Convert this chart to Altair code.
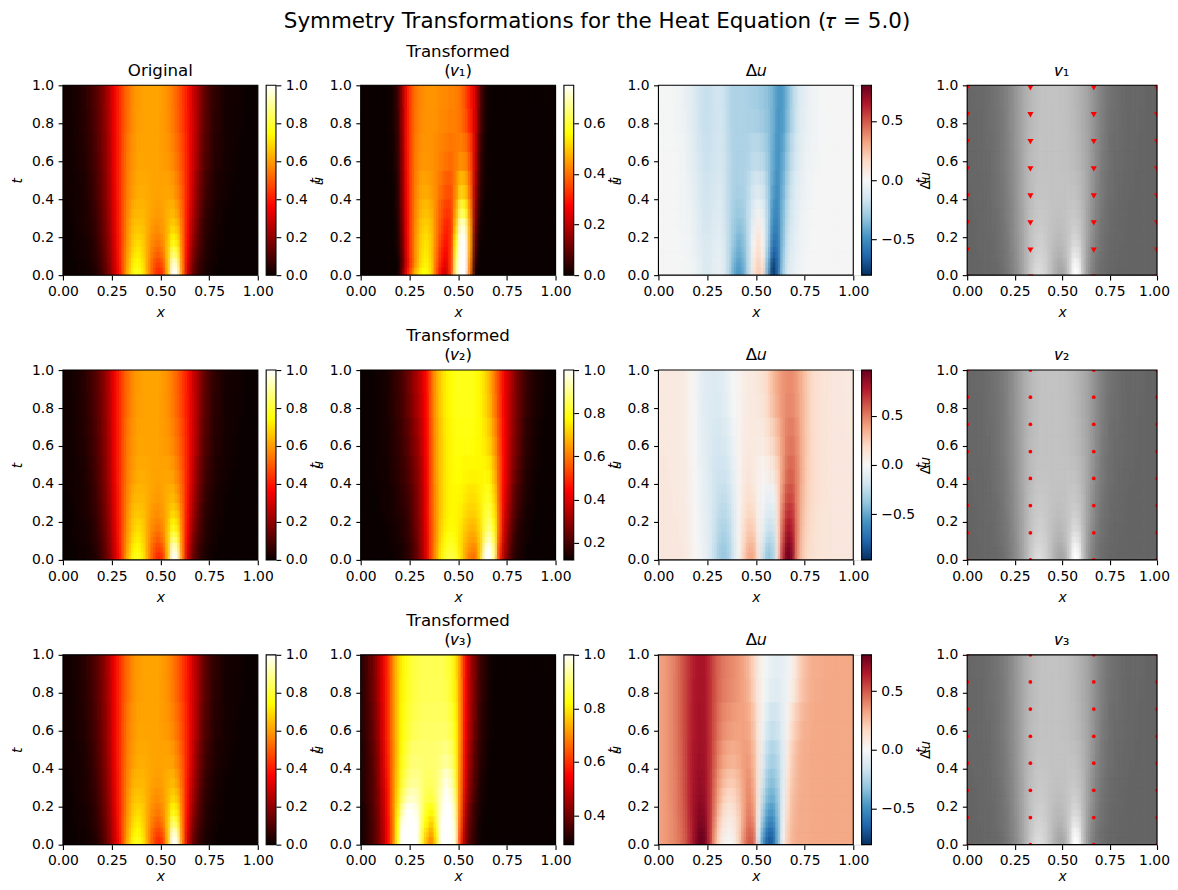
import altair as alt
import pandas as pd

N_COLS = 40
t_edges = [0, .04, .09, .15, .22, .30, .40, .55, .75, 1.0]
x_edges = [i / N_COLS for i in range(N_COLS + 1)]

# every row runs from x=0 to x=1 and rows go from t=0 upward; values are percent
ORIG = [
 [0,0,0,1,1,2,3,6,11,18,27,38,52,66,76,78,72,60,49,42,45,66,100,97,58,32,17,9,5,2,1],
 [0,0,0,1,1,2,4,7,12,19,28,39,52,64,73,75,70,60,51,46,50,66,96,90,57,34,19,10,5,3,1,1],
 [0,0,1,1,2,3,5,8,13,20,29,40,52,62,70,72,68,61,54,51,55,67,85,80,56,36,21,12,7,4,2,1],
 [0,0,1,1,2,3,5,9,14,21,30,40,51,61,67,69,67,61,57,55,58,65,75,71,55,38,24,14,8,4,2,1,1],
 [0,0,1,2,3,4,6,10,15,22,31,41,51,60,65,66,65,62,59,58,60,64,68,65,54,39,26,16,9,5,3,2,1],
 [0,1,1,2,3,4,7,11,16,23,32,41,51,58,63,64,64,62,61,60,61,63,64,60,52,40,28,18,11,6,4,2,1,1],
 [1,1,1,2,3,5,8,12,17,24,33,42,50,57,60,62,62,62,61,61,61,61,60,56,50,41,30,20,13,8,5,3,2,1,1],
 [1,1,2,3,4,6,9,13,18,25,34,42,50,56,59,61,61,61,61,61,60,59,57,53,48,41,32,23,15,10,6,4,3,2,1,1],
 [1,1,2,3,5,7,10,14,19,26,34,42,49,54,58,60,61,61,61,61,60,58,55,51,46,40,32,24,17,11,7,5,3,2,1,1,1],
]
T1 = [
 [0,0,0,0,0,0,0,0,10,28,40,50,56,57,52,38,26,22,34,66,77,77,40,2],
 [0,0,0,0,0,0,0,0,8,24,36,46,53,55,51,40,30,25,34,64,77,77,42,5],
 [0,0,0,0,0,0,0,1,9,26,37,46,52,54,50,41,32,27,34,60,76,75,45,8],
 [0,0,0,0,0,0,0,2,10,26,37,46,51,53,50,42,34,29,33,55,75,74,46,10,1],
 [0,0,0,0,0,0,0,2,11,27,37,45,50,51,49,42,36,31,33,50,72,70,46,13,2],
 [0,0,0,0,0,0,0,3,12,27,37,44,48,49,47,43,37,34,34,46,62,58,43,16,3],
 [0,0,0,0,0,0,0,3,13,28,37,43,46,46,45,43,40,37,37,42,50,48,39,19,5,1],
 [0,0,0,0,0,0,1,4,14,29,37,42,44,44,44,43,42,41,40,41,42,41,36,22,7,1],
 [0,0,0,0,0,0,1,5,15,29,37,41,43,44,44,44,43,43,42,42,40,36,30,23,10,2],
]
T2 = [
 [12,12,12,12,12,12,12,13,14,16,19,24,31,40,54,65,76,82,84,82,75,66,60,59,72,100,100,90,50,33,22,17,14,13,12,12,12,12,12,12],
 [12,12,12,12,12,12,13,13,14,16,19,24,31,41,54,65,75,80,82,80,74,67,63,62,71,96,100,88,52,35,24,18,15,13,12,12,12,12,12,12],
 [12,12,12,12,12,12,13,14,15,17,20,25,32,41,54,64,73,78,80,78,74,69,66,66,72,88,94,83,56,37,26,19,15,14,13,12,12,12,12,12],
 [12,12,12,12,12,13,13,14,15,17,21,26,32,42,54,64,72,76,78,77,75,71,69,69,74,84,88,79,57,39,28,21,16,14,13,12,12,12,12,12],
 [12,12,12,12,13,13,14,15,16,18,21,27,33,42,55,64,71,75,77,77,76,73,72,72,75,82,84,75,57,41,30,23,18,15,13,13,12,12,12,12],
 [12,12,12,12,13,13,14,15,17,19,22,27,33,42,55,64,71,75,77,77,77,75,74,74,76,80,80,72,56,43,32,24,19,16,14,13,12,12,12,12],
 [12,12,12,13,13,13,15,16,18,20,24,28,34,43,55,65,71,75,77,78,78,77,77,77,77,77,76,68,56,44,34,27,21,17,15,13,13,12,12,12],
 [12,12,12,13,13,14,15,17,19,22,26,30,36,44,56,65,71,75,77,79,79,79,79,78,77,75,71,64,54,44,35,29,23,18,16,14,13,12,12,12],
 [12,12,12,13,13,14,16,18,20,24,28,33,38,45,57,66,72,76,78,80,80,80,80,79,77,73,68,60,52,43,36,30,24,20,17,15,14,13,12,12],
]
T3 = [
 [31,33,36,40,46,55,66,84,100,100,100,100,88,75,68,80,100,100,100,96,60,44,36,32,30,29],
 [31,33,36,40,46,55,66,83,100,100,100,100,89,78,72,82,100,100,100,96,62,45,37,32,30,29],
 [31,33,36,40,47,55,66,82,98,100,100,100,90,82,77,85,100,100,100,94,64,46,38,33,30,29],
 [31,33,37,41,47,56,67,80,93,100,100,98,91,85,82,87,98,100,100,92,66,48,39,33,31,29],
 [32,34,37,41,48,56,67,78,88,94,96,95,91,88,87,90,96,100,98,89,67,50,41,35,31,30,29],
 [32,34,37,42,49,57,67,77,85,90,92,92,91,89,89,90,94,98,95,86,68,52,42,36,32,30,29],
 [32,34,38,42,50,58,67,76,83,87,90,90,90,90,90,90,91,92,90,84,69,53,44,37,33,31,29],
 [33,35,39,44,51,59,68,76,82,85,87,88,89,89,89,89,89,89,87,82,70,55,46,39,34,31,30,29],
 [33,36,40,45,52,59,68,76,81,84,86,87,88,88,88,88,88,87,85,80,70,56,47,40,35,32,30,29],
]
D1 = [
 [0,0,0,0,-1,-1,-2,-4,-7,-11,-11,-7,-6,-10,-22,-40,-47,-40,-20,8,20,12,-40,-78,-62,-28,-12,-7,-3,-2,-1,0],
 [0,0,0,0,-1,-1,-2,-4,-7,-11,-11,-7,-6,-10,-21,-37,-44,-38,-20,6,18,8,-36,-74,-62,-30,-13,-8,-4,-2,-1,0],
 [0,0,0,-1,-1,-2,-3,-5,-8,-11,-11,-8,-7,-11,-21,-34,-40,-35,-20,3,15,3,-30,-65,-60,-32,-15,-9,-5,-3,-1,0],
 [0,0,0,-1,-1,-2,-3,-5,-9,-12,-12,-9,-8,-12,-21,-31,-37,-33,-20,0,12,-1,-26,-58,-57,-34,-17,-10,-6,-3,-2,-1,0],
 [0,0,0,-1,-2,-2,-4,-6,-10,-13,-13,-10,-9,-13,-21,-29,-33,-30,-19,-5,6,-4,-24,-52,-54,-35,-19,-11,-7,-4,-2,-1,0],
 [0,0,0,-1,-2,-3,-4,-7,-11,-14,-14,-11,-10,-14,-21,-27,-29,-27,-19,-10,-4,-9,-24,-48,-52,-36,-21,-12,-8,-4,-2,-1,-1,0],
 [0,0,-1,-1,-2,-3,-5,-8,-12,-15,-15,-13,-12,-15,-21,-25,-26,-25,-21,-14,-13,-15,-27,-43,-50,-39,-25,-15,-9,-5,-3,-2,-1,0],
 [0,0,-1,-1,-2,-4,-6,-10,-14,-17,-17,-15,-14,-16,-21,-25,-25,-25,-24,-21,-21,-24,-30,-40,-48,-42,-30,-19,-12,-7,-4,-3,-2,-1,0],
 [-1,-1,-1,-2,-3,-5,-8,-12,-16,-18,-18,-16,-15,-17,-22,-25,-25,-25,-26,-27,-28,-30,-33,-38,-46,-46,-36,-24,-15,-9,-6,-3,-2,-1,-1,0],
]
D2 = [
 [10,10,10,10,10,9,6,1,-2,-6,-12,-22,-33,-36,-30,-14,3,22,36,36,12,-22,-38,-30,15,70,95,85,45,26,18,15,13,12,11,11,10,10,10,10],
 [10,10,10,10,10,9,6,1,-2,-6,-12,-22,-32,-35,-29,-14,3,20,33,32,10,-18,-34,-28,14,66,92,83,46,27,19,15,13,12,11,11,10,10,10,10],
 [10,10,10,10,9,8,5,1,-3,-7,-12,-21,-29,-32,-27,-13,3,17,28,27,8,-12,-26,-24,14,60,85,78,47,28,20,16,13,12,11,11,10,10,10,10],
 [10,10,10,10,9,8,5,0,-3,-7,-12,-20,-27,-29,-25,-12,3,15,24,22,6,-8,-19,-18,14,55,78,73,48,29,21,17,14,12,11,11,10,10,10,10],
 [10,10,10,9,9,8,4,0,-4,-8,-12,-19,-24,-26,-22,-11,2,12,19,17,5,-4,-12,-10,15,50,70,68,47,31,22,17,14,12,11,11,10,10,10,10],
 [10,10,10,9,9,7,4,0,-4,-9,-12,-18,-22,-23,-19,-10,2,10,15,12,4,-2,-6,-4,16,45,62,62,47,32,23,18,15,13,12,11,10,10,10,10],
 [10,10,9,9,8,7,4,-1,-5,-9,-13,-17,-19,-19,-15,-7,2,8,11,9,5,3,5,10,21,40,54,56,47,34,24,19,15,13,12,11,10,10,10,10],
 [9,9,9,9,8,7,3,-1,-6,-10,-13,-15,-16,-14,-10,-4,3,7,9,9,8,9,14,21,29,41,49,50,44,33,25,19,15,13,12,11,10,10,10,9],
 [9,9,9,9,8,7,3,-2,-7,-11,-12,-13,-12,-10,-5,0,3,6,8,9,11,14,20,30,37,42,45,45,40,33,25,19,15,13,12,11,10,10,9,9],
]
D3 = [
 [33,35,37,40,44,50,60,72,80,78,60,34,13,3,0,4,18,38,50,48,-5,-48,-68,-66,-38,2,20,27,30,30,30,31,31,31,31,31,31,31,31,31],
 [33,35,37,40,44,50,60,71,79,77,60,36,16,6,3,6,18,36,47,45,-3,-42,-62,-62,-38,-1,19,27,30,30,30,31,31,31,31,31,31,31,31,31],
 [33,35,37,40,45,51,61,70,76,74,60,39,20,9,6,8,18,33,44,40,2,-34,-52,-53,-36,-4,17,26,29,30,30,31,31,31,31,31,31,31,31,31],
 [33,35,37,41,46,52,62,70,74,72,60,42,25,14,10,12,20,32,41,36,6,-27,-44,-46,-33,-6,15,25,29,30,30,31,31,31,31,31,31,31,31,31],
 [33,35,38,41,46,53,62,69,72,70,60,44,30,20,16,17,23,32,39,33,9,-21,-36,-39,-30,-8,12,24,28,30,30,31,31,31,31,31,31,31,31,31],
 [33,35,38,41,47,53,62,68,71,69,60,46,34,26,22,22,26,33,37,30,11,-15,-30,-33,-26,-9,10,22,27,29,30,31,31,31,31,31,31,31,31,31],
 [33,35,38,42,47,54,62,67,69,68,60,49,39,33,30,29,31,34,34,27,11,-9,-22,-26,-22,-9,7,20,26,29,30,31,31,31,31,31,31,31,31,31],
 [33,35,38,42,48,54,61,66,68,67,60,51,43,38,36,34,33,33,31,23,10,-4,-13,-17,-15,-8,3,14,22,27,29,30,31,31,31,31,31,31,31,31],
 [33,35,38,42,48,54,60,65,67,66,60,52,46,42,40,38,35,32,27,18,8,1,-4,-7,-8,-7,-4,4,14,22,26,29,30,30,31,31,31,31,31,31],
]

HOT_STOPS = [0.0, .365, .746, 1.0]
HOT_COLORS = ["#0b0000", "#ff0000", "#ffff00", "#ffffff"]
RDBU_STOPS = [i / 10 for i in range(11)]
RDBU_COLORS = ["#053061", "#2166ac", "#4393c3", "#92c5de", "#d1e5f0", "#f7f7f7",
               "#fddbc7", "#f4a582", "#d6604d", "#b2182b", "#67001f"]
GRAY_STOPS = [0.0, 1.0]
GRAY_COLORS = ["#666666", "#ffffff"]

QUIVER_X = [0.0, 0.333, 0.667, 1.0]
QUIVER_T_DOWN = [-0.01, 0.132, 0.275, 0.417, 0.56, 0.703, 0.845, 0.987]
QUIVER_T = [0.0, 0.143, 0.286, 0.429, 0.571, 0.714, 0.857, 1.0]

FONT = "DejaVu Sans"
PW, PH = 195, 190
GAP4 = 11
LBL = 13.89
TFS = 16.67
DX = 1 / N_COLS
T_MID = [(t_edges[i] + t_edges[i + 1]) / 2 for i in range(len(t_edges) - 1)]


def table(matrix, fill, mode="base"):
    """Long table of the grid; the shifted modes straddle neighbouring cells to soften the steps."""
    recs = []
    for r, row in enumerate(matrix):
        row = list(row) + [fill] * (N_COLS - len(row))
        for c, v in enumerate(row):
            a, b = x_edges[c], x_edges[c + 1]
            lo, hi = t_edges[r], t_edges[r + 1]
            if mode == "left":
                a, b = max(a - DX / 2, 0), b - DX / 2
            elif mode == "right":
                a, b = a + DX / 2, min(b + DX / 2, 1)
            elif mode == "down":
                lo, hi = (T_MID[r - 1] if r else 0), T_MID[r]
            elif mode == "up":
                lo, hi = T_MID[r], (T_MID[r + 1] if r + 1 < len(T_MID) else 1)
            recs.append(dict(x0=a, x1=b, t0=lo, t1=hi, u=v / 100))
    return pd.DataFrame(recs)


def color_scale(lo, hi, stops, colors):
    return alt.Scale(domain=[lo + s * (hi - lo) for s in stops], range=colors,
                     interpolate="rgb", clamp=True)


def base_axis(**kw):
    return alt.Axis(domain=False, tickColor="black", tickSize=4.86, tickWidth=1.11, labelPadding=4.5,
                    labelFontSize=LBL, labelFont=FONT, labelColor="black", labelOverlap=False,
                    labelFlush=False, labelBound=False, grid=False, titleFont=FONT, titleFontSize=LBL,
                    titleFontWeight="normal", titleColor="black", **kw)


def panel(matrix, fill, stops, colors, lo, hi, title, ticks=None, tfmt=".1f", cbar_title=None,
          cbar_x=43, quiver=None, last=False, bottom=False, extra=0):
    pw = 190 if last else PW
    xs = alt.Scale(domain=[0, 1], range=[0, pw], nice=False, zero=False)
    ys = alt.Scale(domain=[0, 1], nice=False, zero=False)
    cs = color_scale(lo, hi, stops, colors)
    xkw = {"labelOffset": {"condition": {"test": "datum.value == 1", "value": -3}, "value": 0}} if last else {}
    heat = alt.Chart(table(matrix, fill)).mark_rect(strokeWidth=0.7, clip=True).encode(
        x=alt.X("x0:Q", scale=xs, axis=base_axis(values=[0, .25, .5, .75, 1], format=".2f", title="x",
                                                 titleFontStyle="italic", titlePadding=2 if bottom else 7, **xkw)),
        x2="x1:Q",
        y=alt.Y("t0:Q", scale=ys, axis=base_axis(values=[0, .2, .4, .6, .8, 1], format=".1f", title="t",
                                                 titleFontStyle="italic", titlePadding=7)),
        y2="t1:Q",
        color=alt.Color("u:Q", scale=cs, legend=None),
        stroke=alt.Stroke("u:Q", scale=cs, legend=None),
    )
    layers = [heat]
    for mode, op in [("left", .5), ("right", .333), ("down", .25), ("up", .2)]:
        layers.append(alt.Chart(table(matrix, fill, mode)).mark_rect(opacity=op, clip=True).encode(
            x=alt.X("x0:Q", scale=xs, axis=None), x2="x1:Q",
            y=alt.Y("t0:Q", scale=ys, axis=None), y2="t1:Q",
            color=alt.Color("u:Q", scale=cs, legend=None)))
    if quiver:
        ts = QUIVER_T_DOWN if quiver == "down" else QUIVER_T
        q = pd.DataFrame([dict(x=a, t=b) for a in QUIVER_X for b in ts])
        m = (alt.Chart(q).mark_point(filled=True, shape="triangle-down", size=38, color="#ff0000", opacity=1, clip=True)
             if quiver == "down" else
             alt.Chart(q).mark_circle(size=14, color="#ff0000", opacity=1, clip=True))
        layers.append(m.encode(x=alt.X("x:Q", scale=xs, axis=None), y=alt.Y("t:Q", scale=ys, axis=None)))
    frame = alt.Chart(pd.DataFrame([dict(a=0, b=1, c=0, d=1)])).mark_rect(
        filled=False, stroke="black", strokeWidth=1.11).encode(
        x=alt.X("a:Q", scale=xs, axis=None), x2="b:Q",
        y=alt.Y("c:Q", scale=ys, axis=None), y2="d:Q")
    layers.append(frame)
    if ticks is not None:
        grad = alt.LinearGradient(gradient="linear", x1=0, y1=1, x2=0, y2=0,
                                  stops=[alt.GradientStop(color=c, offset=s) for s, c in zip(stops, colors)])
        bar = alt.Chart(pd.DataFrame([dict(a=0, b=1, lo=lo, hi=hi)])).mark_rect(
            color=grad, stroke="black", strokeWidth=1.11).encode(
            x=alt.X("a:Q", scale=alt.Scale(domain=[0, 1], range=[PW + 8.4, PW + 18.2], nice=False), axis=None),
            x2="b:Q",
            y=alt.Y("lo:Q", scale=alt.Scale(domain=[lo, hi], nice=False, zero=False),
                    axis=base_axis(orient="right", offset=18.2 - extra, values=ticks, format=tfmt,
                                   title=cbar_title, titleAngle=270, titleX=cbar_x, titleY=PH / 2,
                                   titleAlign="center", titleBaseline="middle")),
            y2="hi:Q",
        )
        layers.append(bar)
    tp = alt.TitleParams(text=title, font=FONT, fontSize=TFS, fontWeight="normal", color="black",
                         anchor="middle", offset=1, dy=2, lineHeight=19, dx=-extra / 2)
    return alt.layer(*layers).resolve_scale(x="independent", y="independent", color="independent",
                                            stroke="independent").resolve_axis(x="independent", y="independent").properties(
        width=pw + extra, height=PH, title=tp)


U_TICKS = [0, .2, .4, .6, .8, 1.0]
cells = [
 panel(ORIG, 0, HOT_STOPS, HOT_COLORS, 0, 1.0, "Original", U_TICKS, cbar_title="𝑢"),
 panel(T1, 0, HOT_STOPS, HOT_COLORS, 0, .75, ["Transformed", "(𝑣₁)"], [0, .2, .4, .6], cbar_title="𝑢"),
 panel(D1, 0, RDBU_STOPS, RDBU_COLORS, -.8, .8, "Δ𝑢", [-.5, 0, .5], cbar_title="Δ𝑢", cbar_x=54, extra=GAP4),
 panel(ORIG, 0, GRAY_STOPS, GRAY_COLORS, 0, 1.0, "𝑣₁", quiver="down", last=True),
 panel(ORIG, 0, HOT_STOPS, HOT_COLORS, 0, 1.0, "", U_TICKS, cbar_title="𝑢"),
 panel(T2, 12, HOT_STOPS, HOT_COLORS, .12, 1.0, ["Transformed", "(𝑣₂)"], [.2, .4, .6, .8, 1.0], cbar_title="𝑢"),
 panel(D2, 0, RDBU_STOPS, RDBU_COLORS, -.96, .96, "Δ𝑢", [-.5, 0, .5], cbar_title="Δ𝑢", cbar_x=54, extra=GAP4),
 panel(ORIG, 0, GRAY_STOPS, GRAY_COLORS, 0, 1.0, "𝑣₂", quiver="dot", last=True),
 panel(ORIG, 0, HOT_STOPS, HOT_COLORS, 0, 1.0, "", U_TICKS, cbar_title="𝑢", bottom=True),
 panel(T3, 29, HOT_STOPS, HOT_COLORS, .29, 1.0, ["Transformed", "(𝑣₃)"], [.4, .6, .8, 1.0], cbar_title="𝑢", bottom=True),
 panel(D3, 31, RDBU_STOPS, RDBU_COLORS, -.81, .81, "Δ𝑢", [-.5, 0, .5], cbar_title="Δ𝑢", cbar_x=54, bottom=True, extra=GAP4),
 panel(ORIG, 0, GRAY_STOPS, GRAY_COLORS, 0, 1.0, "𝑣₃", quiver="dot", last=True, bottom=True),
]

chart = alt.concat(*cells, columns=4, spacing={"row": 95, "column": 103}, bounds="flush").properties(
    title=alt.TitleParams(text="Symmetry Transformations for the Heat Equation (𝜏 = 5.0)", font=FONT,
                          fontSize=21.45, fontWeight="normal", color="black", anchor="middle", offset=6.4, dx=7, dy=-4),
    padding={"left": 2, "top": 2, "right": 0, "bottom": 0},
    background="white",
).configure_view(stroke=None).configure(font=FONT)

chart.save("out.html", embed_options={"renderer": "svg", "actions": False})
